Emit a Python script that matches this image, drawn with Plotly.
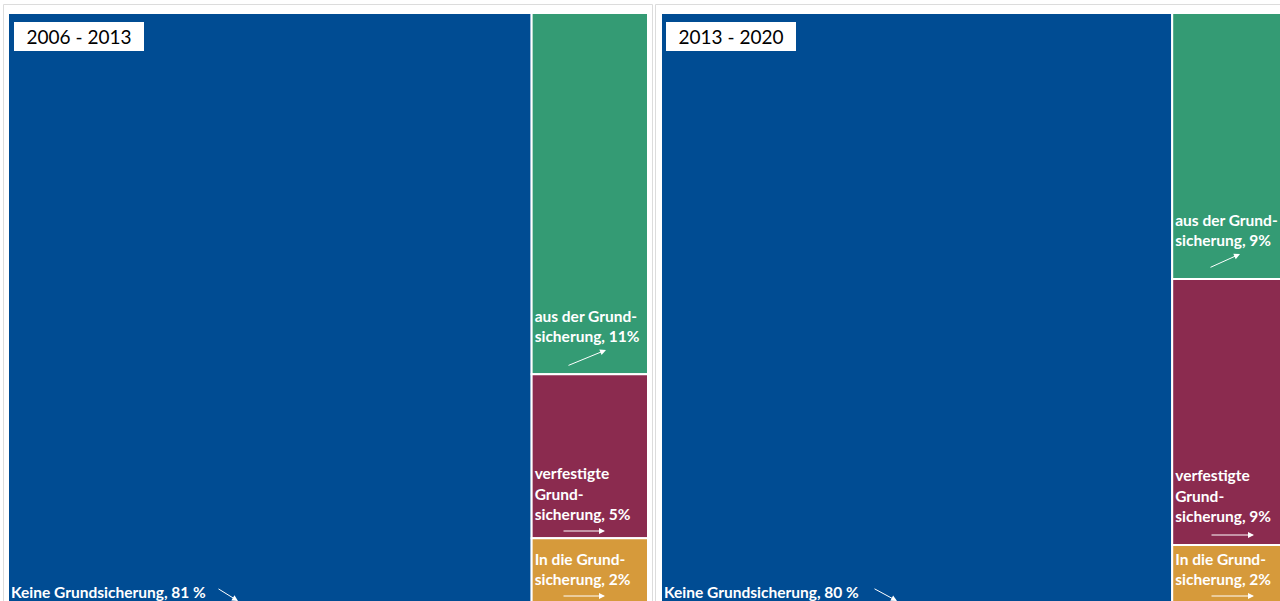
import plotly.graph_objects as go

# ---- data ----
periods = ["2006 - 2013", "2013 - 2020"]
categories = ["Keine Grundsicherung", "aus der Grundsicherung",
              "verfestigte Grundsicherung", "In die Grundsicherung"]
shares_2006_2013 = [81, 11, 5, 2]
shares_2013_2020 = [80, 9, 9, 2]
text_templates = ["Keine Grundsicherung, {v} %",
                  "aus der Grund-<br>sicherung, {v}%",
                  "verfestigte<br>Grund-<br>sicherung, {v}%",
                  "In die Grund-<br>sicherung, {v}%"]
colors = ["#004c93", "#349b74", "#8b2b4f", "#d69a3b"]

# spacing below each label (room for the small arrows), per panel
SUP = "<br><sup> </sup>"
label_spacers = [
    ["", "<br><span style='font-size:43px'> </span>", SUP, SUP],
    ["", "<br><span style='font-size:47px'> </span>",
     "<br><span style='font-size:1px'> </span>", SUP],
]

W, H = 1300, 605


def px_x(x):
    return x / W


def px_y(y):
    return 1 - y / H


fig = go.Figure()
domains = [(8, 648), (661, 1300)]
for shares, (x0, x1), spacers in zip([shares_2006_2013, shares_2013_2020],
                                     domains, label_spacers):
    fig.add_trace(go.Treemap(
        labels=categories,
        parents=[""] * len(categories),
        values=shares,
        text=[t.format(v=v) + s for t, v, s in zip(text_templates, shares, spacers)],
        textinfo="text",
        texttemplate="<b>%{text}</b>",
        textposition="bottom left",
        textfont=dict(family="Lato", size=15.5, color="white"),
        marker=dict(colors=colors, line=dict(color="white", width=2),
                    pad=dict(t=0, l=0, r=0, b=0)),
        sort=False,
        pathbar=dict(visible=False),
        tiling=dict(packing="squarify", pad=0),
        domain=dict(x=[px_x(x0), px_x(x1)], y=[px_y(604), px_y(13)]),
        hoverinfo="label+value",
    ))

# panel frames
shapes = [
    dict(type="rect", xref="paper", yref="paper", x0=px_x(3.5), x1=px_x(652.5),
         y0=px_y(640), y1=px_y(4.5), line=dict(color="#dcdcdc", width=1)),
    dict(type="rect", xref="paper", yref="paper", x0=px_x(655.5), x1=px_x(1340),
         y0=px_y(640), y1=px_y(4.5), line=dict(color="#dcdcdc", width=1)),
]

annotations = []
# period title boxes
for title, xl in zip(periods, [14, 666]):
    annotations.append(dict(
        text=title, xref="paper", yref="paper", x=px_x(xl), y=px_y(22),
        xanchor="left", yanchor="top", showarrow=False,
        font=dict(family="Lato", size=19, color="black"),
        bgcolor="white", borderpad=2, borderwidth=0, width=126, height=25,
        align="center"))

# small decorative arrows (head, tail) in pixels
arrows = [((238, 601), (217, 588)), ((606, 350), (567, 366)),
          ((605, 531), (562, 531)), ((605, 596), (562, 596)),
          ((897, 601), (873, 588)), ((1240, 254), (1209, 268)),
          ((1254, 535), (1210, 535)), ((1254, 596), (1210, 596))]
for (hx, hy), (tx, ty) in arrows:
    annotations.append(dict(
        x=px_x(hx), y=px_y(hy), xref="paper", yref="paper",
        ax=tx - hx, ay=ty - hy, axref="pixel", ayref="pixel",
        text="", showarrow=True, arrowhead=2, arrowsize=1.2,
        arrowwidth=1, arrowcolor="white"))

fig.update_layout(
    width=W, height=H,
    margin=dict(l=0, r=0, t=0, b=0),
    paper_bgcolor="white",
    shapes=shapes,
    annotations=annotations,
    showlegend=False,
)

fig.write_html("out.html", config={"displayModeBar": False}, post_script=
               "document.body.style.margin='0px';document.body.style.overflow='hidden';")
